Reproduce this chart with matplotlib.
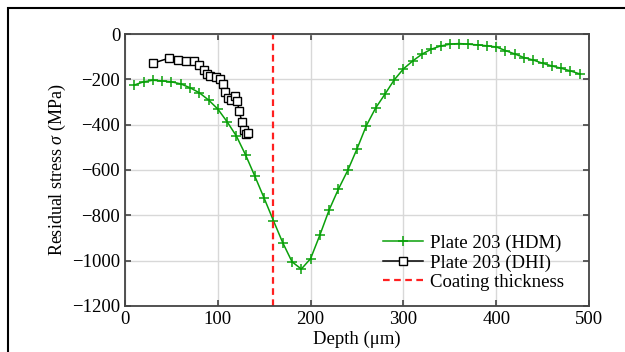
import matplotlib
matplotlib.use('Agg')
import matplotlib.pyplot as plt
from matplotlib.patches import Rectangle

# HDM measurement (every 10 um)
hdm_depth = [10, 20, 30, 40, 50, 60, 70, 80, 90, 100,
             110, 120, 130, 140, 150, 160, 170, 180, 190, 200,
             210, 220, 230, 240, 250, 260, 270, 280, 290, 300,
             310, 320, 330, 340, 350, 360, 370, 380, 390, 400,
             410, 420, 430, 440, 450, 460, 470, 480, 490]
hdm_stress = [-225, -211, -204, -207, -211, -220, -237, -259, -291, -331,
              -387, -450, -534, -628, -725, -824, -921, -1005, -1037, -991,
              -887, -776, -684, -602, -507, -405, -327, -266, -203, -154,
              -119, -89, -67, -53, -45, -42, -45, -48, -52, -57,
              -73, -88, -104, -115, -129, -141, -151, -163, -176]

# DHI measurement
dhi_depth = [30, 47, 57, 66, 74, 80, 85, 88, 92, 98, 102, 106, 108, 111,
             114, 118, 121, 123, 126, 128, 130, 133]
dhi_stress = [-129, -107, -115, -118, -120, -136, -159, -178, -185, -190,
              -199, -222, -257, -282, -290, -273, -295, -341, -387, -423,
              -441, -438]

coating = 160

plt.rcParams['font.family'] = ['Liberation Serif', 'DejaVu Serif']
plt.rcParams['mathtext.fontset'] = 'custom'
plt.rcParams['mathtext.it'] = 'Liberation Serif:italic'
plt.rcParams['mathtext.rm'] = 'Liberation Serif'

fig = plt.figure(figsize=(6.25, 3.52), dpi=100)
ax = fig.add_axes([0.2, 0.1307, 0.7424, 0.7727])

fig.patches.append(Rectangle((8 / 625, -0.1), 1.2, (352 - 8) / 352 + 0.1,
                             transform=fig.transFigure, fill=False,
                             edgecolor='black', linewidth=1.5))

ax.plot(hdm_depth, hdm_stress, color='#0aa00a', marker='+', markersize=7.5,
        markeredgewidth=1.1, linewidth=1.1, label='Plate 203 (HDM)')
ax.plot(dhi_depth, dhi_stress, color='black', marker='s', markersize=6,
        markerfacecolor='white', markeredgewidth=1.0, linewidth=1.1,
        label='Plate 203 (DHI)')
ax.axvline(coating, color='#ff2020', linestyle='--', linewidth=1.6,
           dashes=(3, 2), label='Coating thickness')

ax.set_xlim(0, 500)
ax.set_ylim(-1200, 0)
ax.set_xticks([0, 100, 200, 300, 400, 500])
ax.set_yticks([0, -200, -400, -600, -800, -1000, -1200])
ax.set_yticklabels(['0', '\u2212200', '\u2212400', '\u2212600', '\u2212800',
                    '\u22121000', '\u22121200'])
ax.grid(True, color='#d8d8d8', linewidth=1.0)
ax.set_axisbelow(True)
ax.tick_params(direction='in', top=True, right=True, labelsize=13.5,
               length=4, width=1.2, color='#444444')
for s in ax.spines.values():
    s.set_color('#444444')
    s.set_linewidth(1.3)

ax.set_xlabel('Depth (\u03bcm)', fontsize=13.5, labelpad=2)
ax.set_ylabel('Residual stress $\\sigma$ (MPa)', fontsize=13, labelpad=3)

ax.legend(loc='upper left', bbox_to_anchor=(0.556, 0.262), frameon=False,
          fontsize=13.5, handlelength=2.15, handletextpad=0.35,
          labelspacing=0.12, borderpad=0.0, borderaxespad=0.0)

fig.savefig('out.png', dpi=100)
